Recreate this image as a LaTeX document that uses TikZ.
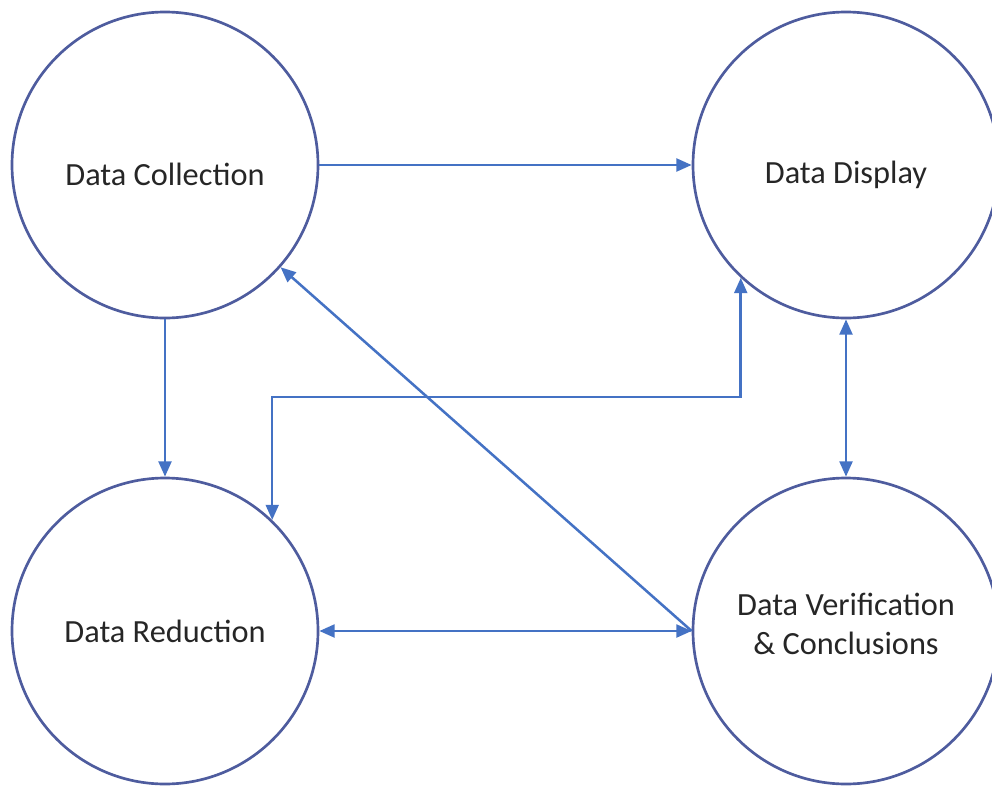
\documentclass[tikz,border=0pt]{standalone}
\usepackage{fontspec}
\setmainfont{Carlito}
\usepackage{tikz}
\usetikzlibrary{arrows.meta}
\definecolor{ringblue}{RGB}{78,92,158}
\definecolor{arrowblue}{RGB}{68,114,196}

\begin{document}
\begin{tikzpicture}[node distance={17.025cm},
  main/.style = {draw=ringblue, line width=1.9pt, circle, minimum size=7.65cm, align=center, text=black!85, font=\fontsize{23}{28}\selectfont},
  link/.style = {draw=arrowblue, line width=1.8pt, -{Triangle[length=3.8mm, width=3.2mm]}},
  twoway/.style = {link, {Triangle[length=3.8mm, width=3.2mm]}-{Triangle[length=3.8mm, width=3.2mm]}}]
\useasboundingbox (-4.125,4.125) rectangle (20.675,-15.5);
\node[main, text height=1.05cm] (coll) {Data Collection};
\node[main, text height=1.05cm] (disp) [right of=coll] {Data Display};
\node[main] (red) [below of=coll, node distance=11.65cm] {Data Reduction};
\node[main, text depth=0.35cm] (ver) [right of=red] {Data Verification\\\& Conclusions};
\draw[link] (coll) -- (disp);
\draw[link] (coll) -- (red);
\draw[twoway] (disp) -- (ver);
\draw[twoway] (red) -- (ver);
\draw[link] (ver.west) -- (coll);
\draw[twoway] (red.46) -- ++(0,3.075) -| (disp.227);
\end{tikzpicture}
\end{document}
